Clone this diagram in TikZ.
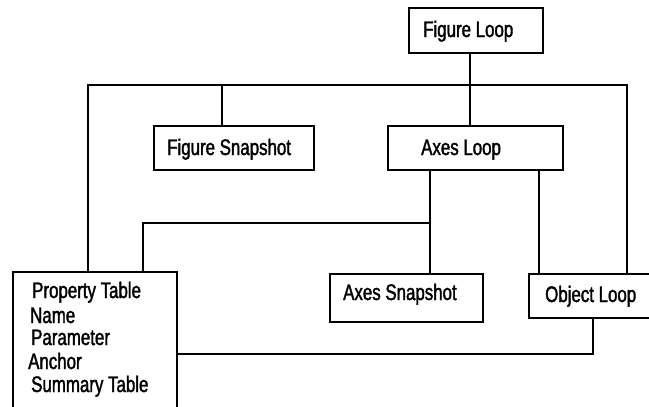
\documentclass[tikz,border=0pt]{standalone}
\usepackage{fontspec}
\setmainfont[FakeStretch=0.75,FakeBold=1.6]{Liberation Sans}
\begin{document}
\begin{tikzpicture}[x=1pt,y=-1pt,
  box/.style={draw, line width=2pt, inner sep=0pt, anchor=north west},
  lbl/.style={anchor=base west, inner sep=0pt, font=\fontsize{22.5}{24}\selectfont},
  wire/.style={line width=2pt, line join=miter}]
\useasboundingbox (0,0) rectangle (649,407);
\clip (0,0) rectangle (649,407);
% boxes
\node[box, minimum width=134pt, minimum height=45pt] (fl) at (408,7) {};
\node[box, minimum width=160pt, minimum height=44pt] (fs) at (153,125) {};
\node[box, minimum width=175pt, minimum height=44pt] (al) at (387,125) {};
\node[box, minimum width=153pt, minimum height=48pt] (as) at (329,273) {};
\node[box, minimum width=140pt, minimum height=44pt] (ol) at (528,273) {};
\node[box, minimum width=164pt, minimum height=200pt] (pt) at (12,271) {};
% labels
\node[lbl] (tfl) at (423,37) {Figure Loop};
\node[lbl] (tfs) at (167,155) {Figure Snapshot};
\node[lbl] (tal) at (421,155) {Axes Loop};
\node[lbl] (tas) at (343,300) {Axes Snapshot};
\node[lbl] (tol) at (545,302) {Object Loop};
\node[lbl] (tp1) at (32,298) {Property Table};
\node[lbl] (tp2) at (30,323) {Name};
\node[lbl] (tp3) at (31,345) {Parameter};
\node[lbl] (tp4) at (28,369) {Anchor};
\node[lbl] (tp5) at (31,392) {Summary Table};
% junction coordinates
\coordinate (j1) at (470,85);
\coordinate (hl) at (88,85);
\coordinate (hr) at (627,85);
\coordinate (hfs) at (222,85);
\coordinate (m) at (430,223);
\coordinate (ml) at (143,223);
\coordinate (ax2) at (539,200);
\coordinate (b) at (593,354);
% connectors
\draw[wire] (j1 |- fl.south) -- (j1 |- al.north);
\draw[wire] (hl |- pt.north) -- (hl) -- (hr) -- (hr |- ol.north);
\draw[wire] (hfs) -- (hfs |- fs.north);
\draw[wire] (m |- al.south) -- (m |- as.north);
\draw[wire] (ml |- pt.north) -- (ml) -- (m);
\draw[wire] (ax2 |- al.south) -- (ax2 |- ol.north);
\draw[wire] (b |- ol.south) -- (b) -- (b -| pt.east);
\end{tikzpicture}
\end{document}
